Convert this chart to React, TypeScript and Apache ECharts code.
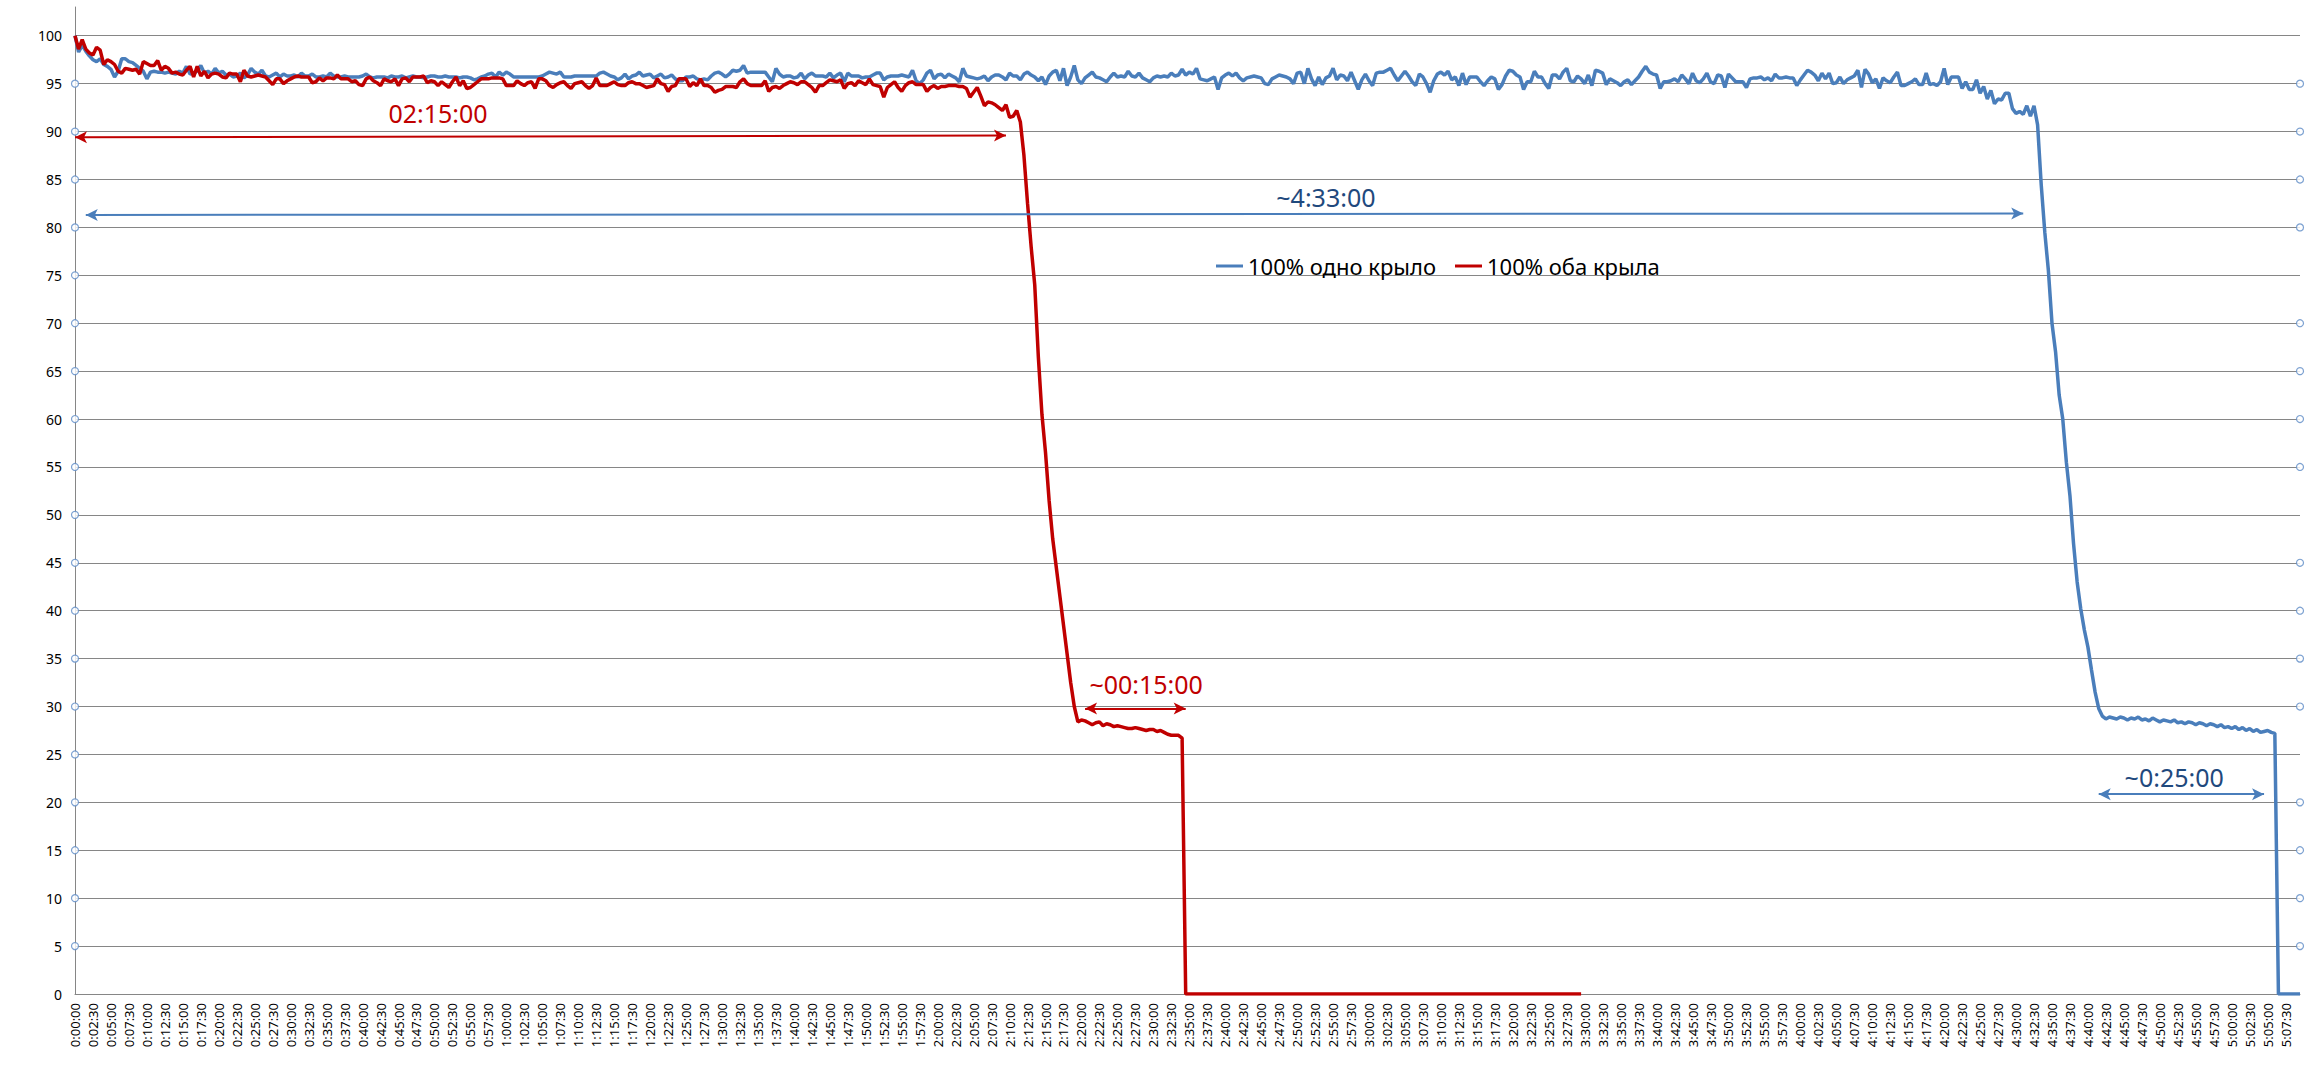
import React, { useEffect, useRef } from 'react';
import * as echarts from 'echarts';

const FONT = '"Noto Sans", "Open Sans", sans-serif';

const BLUE_NAME = '100% одно крыло';
const RED_NAME = '100% оба крыла';

// one reading every 30 seconds, 0:00:00 … 5:09:30
const STEP_SECONDS = 30;
const POINT_COUNT = 620;

const blueValues: number[] = [
  100, 98.3, 99.0, 98.4, 97.9, 97.5, 97.3, 97.6, 97.0, 96.8,
  96.5, 95.7, 96.3, 97.6, 97.6, 97.3, 97.2, 96.9, 96.6, 96.3,
  95.5, 96.2, 96.3, 96.2, 96.2, 96.1, 96.2, 96.1, 96.0, 96.3,
  96.1, 96.8, 96.0, 96.1, 96.3, 96.9, 96.1, 96.3, 96.0, 96.6,
  96.1, 96.3, 95.9, 96.0, 95.7, 95.8, 96.1, 95.6, 95.9, 96.6,
  96.2, 96.0, 96.4, 95.8, 95.7, 95.9, 96.1, 95.7, 96.0, 95.8,
  95.8, 95.9, 95.7, 96.1, 95.8, 95.8, 96.0, 95.7, 95.7, 95.8,
  95.7, 96.1, 95.8, 95.7, 95.7, 95.8, 95.7, 95.7, 95.7, 95.7,
  95.8, 96.0, 95.7, 95.6, 95.7, 95.7, 95.7, 95.6, 95.8, 95.7,
  95.7, 95.8, 95.6, 95.7, 95.8, 95.7, 95.7, 95.6, 95.7, 95.8,
  95.8, 95.7, 95.7, 95.8, 95.7, 95.7, 95.7, 95.6, 95.7, 95.7,
  95.6, 95.4, 95.5, 95.7, 95.8, 96.0, 96.1, 95.7, 96.2, 95.9,
  96.2, 96.0, 95.7, 95.7, 95.7, 95.7, 95.7, 95.7, 95.7, 95.7,
  95.8, 96.0, 96.2, 96.1, 96.0, 96.2, 95.7, 95.7, 95.7, 95.8,
  95.8, 95.8, 95.8, 95.8, 95.8, 95.8, 96.1, 96.2, 96.0, 95.8,
  95.7, 95.4, 95.6, 96.0, 95.5, 95.8, 95.9, 96.2, 95.8, 95.9,
  96.0, 95.6, 95.8, 96.0, 95.6, 95.7, 95.9, 95.5, 95.3, 95.3,
  95.7, 95.7, 95.8, 95.5, 95.4, 95.5, 95.4, 95.8, 96.1, 96.2,
  96.0, 95.7, 96.0, 96.4, 96.3, 96.4, 96.9, 96.1, 96.2, 96.2,
  96.2, 96.2, 96.2, 95.7, 95.2, 96.6, 96.0, 95.7, 95.8, 95.8,
  95.6, 95.7, 96.1, 95.5, 95.9, 96.1, 95.8, 95.8, 95.8, 95.7,
  96.1, 95.6, 95.9, 96.1, 95.2, 96.1, 95.8, 95.8, 95.8, 95.6,
  95.7, 95.7, 95.9, 96.1, 96.1, 95.4, 95.7, 95.8, 95.8, 95.8,
  95.9, 95.8, 95.7, 96.4, 95.3, 95.0, 95.4, 96.1, 96.4, 95.5,
  95.9, 96.0, 95.6, 96.0, 95.8, 95.6, 95.2, 96.6, 95.8, 95.7,
  95.6, 95.5, 95.6, 95.8, 95.3, 95.7, 95.9, 95.9, 95.7, 95.4,
  96.1, 95.8, 95.8, 95.4, 96.0, 96.2, 95.9, 95.7, 95.3, 95.7,
  94.9, 95.8, 96.2, 96.4, 95.3, 96.6, 94.8, 95.7, 96.9, 95.4,
  95.0, 95.6, 95.9, 96.2, 95.7, 95.6, 95.4, 95.2, 95.7, 96.1,
  95.7, 95.8, 95.7, 96.3, 95.8, 95.7, 96.1, 95.6, 95.4, 95.2,
  95.6, 95.8, 95.7, 95.8, 95.7, 96.1, 95.8, 95.9, 96.5, 95.9,
  96.2, 96.0, 96.6, 95.5, 95.4, 95.3, 95.5, 95.7, 94.4, 95.6,
  95.9, 96.1, 95.8, 96.1, 95.6, 95.3, 95.6, 95.7, 95.8, 95.7,
  95.6, 95.0, 94.9, 95.5, 95.7, 95.9, 95.8, 95.7, 95.5, 95.0,
  96.1, 96.2, 95.0, 96.6, 95.5, 94.8, 95.7, 94.9, 95.6, 95.8,
  96.6, 95.4, 95.9, 95.8, 95.3, 96.2, 95.3, 94.4, 95.4, 96.0,
  95.3, 94.8, 96.1, 96.2, 96.2, 96.4, 96.6, 95.9, 95.3, 95.8,
  96.3, 95.8, 95.2, 94.8, 96.0, 95.7, 95.0, 94.1, 95.3, 96.0,
  96.2, 95.9, 96.3, 95.4, 95.7, 94.8, 96.1, 94.9, 95.7, 95.7,
  95.7, 95.2, 94.8, 95.3, 95.7, 95.5, 94.4, 94.9, 95.8, 96.4,
  96.3, 95.9, 95.7, 94.4, 95.2, 95.2, 96.3, 95.7, 95.7, 95.0,
  94.5, 95.9, 95.9, 95.5, 96.2, 96.6, 95.3, 95.2, 95.8, 95.5,
  95.0, 95.9, 94.8, 96.4, 96.3, 96.1, 94.9, 95.5, 95.3, 95.1,
  94.8, 95.2, 95.4, 94.9, 95.3, 95.7, 96.3, 96.8, 96.2, 96.0,
  95.9, 94.5, 95.2, 95.2, 95.3, 95.5, 95.2, 95.9, 95.5, 95.0,
  96.1, 95.3, 95.1, 95.5, 96.1, 95.2, 95.0, 95.9, 95.8, 94.6,
  96.0, 95.6, 95.2, 95.2, 95.2, 94.6, 95.5, 95.6, 95.6, 95.7,
  95.4, 95.6, 95.3, 96.0, 95.6, 95.6, 95.7, 95.6, 95.6, 94.8,
  95.4, 95.9, 96.4, 96.2, 95.9, 95.3, 96.1, 95.5, 96.1, 95.0,
  95.1, 95.7, 95.0, 95.4, 95.6, 95.8, 96.4, 94.6, 96.5, 96.0,
  95.1, 95.5, 94.5, 95.6, 95.3, 95.1, 95.7, 96.2, 94.8, 94.8,
  95.0, 95.2, 95.5, 94.9, 94.9, 96.1, 94.9, 95.0, 94.8, 95.2,
  96.6, 94.9, 95.7, 95.7, 95.7, 94.5, 95.2, 94.4, 94.4, 95.4,
  94.0, 94.7, 93.4, 94.3, 92.9, 93.4, 93.3, 94.0, 94.0, 92.4,
  91.9, 92.1, 91.8, 92.7, 91.6, 92.7, 90.7, 84.5, 79.5, 75.5,
  70.0, 67.0, 62.5, 60.0, 55.5, 52.0, 47.0, 43.0, 40.2, 38.0,
  36.2, 33.8, 31.5, 29.8, 29.0, 28.7, 28.9, 28.8, 28.7, 28.9,
  28.8, 28.6, 28.8, 28.7, 28.9, 28.6, 28.7, 28.5, 28.8, 28.6,
  28.4, 28.6, 28.5, 28.4, 28.6, 28.3, 28.4, 28.2, 28.4, 28.3,
  28.1, 28.3, 28.2, 28.0, 28.2, 28.1, 27.9, 28.1, 27.8, 27.9,
  27.7, 27.9, 27.6, 27.8, 27.5, 27.7, 27.4, 27.6, 27.3, 27.4,
  27.5, 27.3, 27.2, 0, 0, 0, 0, 0, 0, 0,
];

const redValues: number[] = [
  100.0, 98.6, 99.6, 98.6, 98.2, 98.0, 98.8, 98.5, 97.0, 97.5,
  97.3, 97.0, 96.3, 96.1, 96.6, 96.5, 96.4, 96.5, 96.0, 97.3,
  97.1, 96.9, 96.9, 97.4, 96.4, 96.8, 96.6, 96.1, 96.2, 96.0,
  95.9, 96.4, 96.8, 95.7, 96.8, 95.8, 96.3, 95.6, 96.0, 96.1,
  96.0, 95.7, 95.6, 96.1, 96.0, 96.0, 95.2, 96.4, 95.8, 95.7,
  95.8, 95.9, 95.8, 95.7, 95.3, 94.9, 95.5, 95.5, 95.0, 95.3,
  95.5, 95.7, 95.8, 95.7, 95.7, 95.7, 95.1, 95.2, 95.6, 95.3,
  95.6, 95.6, 95.5, 95.9, 95.5, 95.5, 95.5, 95.2, 95.3, 94.9,
  94.8, 95.5, 95.7, 95.3, 95.1, 94.8, 95.5, 95.3, 95.2, 95.5,
  94.8, 95.5, 95.6, 95.2, 95.7, 95.7, 95.7, 95.8, 95.1, 95.3,
  95.2, 94.8, 95.2, 94.9, 94.6, 95.2, 95.7, 94.8, 95.3, 94.5,
  94.6, 94.9, 95.2, 95.5, 95.5, 95.5, 95.6, 95.6, 95.6, 95.5,
  94.8, 94.8, 94.8, 95.3, 95.0, 94.8, 95.1, 95.2, 94.5, 95.5,
  95.5, 95.3, 94.8, 94.6, 94.9, 95.1, 95.2, 94.8, 94.5, 95.0,
  95.1, 95.2, 94.8, 94.5, 94.8, 95.6, 94.8, 94.8, 94.8, 95.0,
  95.2, 94.9, 94.8, 94.8, 95.1, 95.2, 95.0, 95.0, 94.8, 94.6,
  94.7, 94.8, 95.5, 95.0, 94.9, 94.2, 94.7, 94.8, 95.5, 95.5,
  95.5, 94.7, 95.1, 94.8, 95.5, 94.8, 94.8, 94.6, 94.1, 94.3,
  94.4, 94.7, 94.7, 94.7, 94.6, 95.2, 95.5, 95.0, 94.8, 94.8,
  94.8, 94.8, 95.3, 94.2, 94.6, 94.7, 94.5, 94.8, 95.0, 95.2,
  95.1, 94.9, 95.2, 95.2, 94.9, 94.6, 94.1, 94.8, 94.8, 95.1,
  95.4, 95.3, 95.2, 95.4, 94.5, 95.0, 95.1, 94.8, 95.3, 95.1,
  94.9, 95.5, 94.9, 94.8, 94.7, 93.6, 94.6, 94.9, 95.2, 94.6,
  94.2, 94.8, 95.1, 95.2, 94.9, 94.9, 94.9, 94.2, 94.6, 94.8,
  94.5, 94.7, 94.7, 94.8, 94.8, 94.8, 94.7, 94.7, 94.5, 93.6,
  94.1, 94.6, 93.7, 92.7, 93.1, 93.0, 92.8, 92.5, 92.2, 92.8,
  91.5, 91.6, 92.2, 91.0, 87.5, 82.5, 78.0, 74.0, 66.5, 60.5,
  56.5, 51.5, 47.5, 44.5, 41.5, 38.5, 35.5, 32.5, 30.0, 28.4,
  28.6, 28.5, 28.3, 28.1, 28.3, 28.4, 28.0, 28.2, 28.1, 27.9,
  28.0, 27.9, 27.8, 27.7, 27.7, 27.8, 27.7, 27.6, 27.5, 27.6,
  27.6, 27.4, 27.5, 27.3, 27.1, 27.0, 27.0, 27.0, 26.7, 0,
  0, 0, 0, 0, 0, 0, 0, 0, 0, 0,
  0, 0, 0, 0, 0, 0, 0, 0, 0, 0,
  0, 0, 0, 0, 0, 0, 0, 0, 0, 0,
  0, 0, 0, 0, 0, 0, 0, 0, 0, 0,
  0, 0, 0, 0, 0, 0, 0, 0, 0, 0,
  0, 0, 0, 0, 0, 0, 0, 0, 0, 0,
  0, 0, 0, 0, 0, 0, 0, 0, 0, 0,
  0, 0, 0, 0, 0, 0, 0, 0, 0, 0,
  0, 0, 0, 0, 0, 0, 0, 0, 0, 0,
  0, 0, 0, 0, 0, 0, 0, 0, 0, 0,
  0, 0, 0, 0, 0, 0, 0, 0, 0, 0,
];

// small round handles drawn at the ends of the gridlines
const leftHandleValues = [5, 10, 15, 20, 25, 30, 35, 40, 45, 50, 55, 60, 65, 70, 75, 80, 85, 90, 95];
const rightHandleValues = [5, 10, 15, 20, 30, 35, 40, 45, 55, 60, 65, 70, 80, 85, 90, 95];

// annotations: double-headed arrows [category index, value]
const redArrows = [
  { from: [0, 89.4], to: [259, 89.6] },
  { from: [281, 29.8], to: [309, 29.8] },
];
const blueArrows = [
  { from: [3, 81.3], to: [542, 81.45] },
  { from: [563, 20.85], to: [609, 20.85] },
];
const redNotes = [
  { text: '02:15:00', at: [101, 91.9] },
  { text: '~00:15:00', at: [298, 32.4] },
];
const blueNotes = [
  { text: '~4:33:00', at: [348, 83.2] },
  { text: '~0:25:00', at: [584, 22.6] },
];

const BLUE = '#4A7EBB';
const RED = '#C00000';
const NAVY = '#1F497D';
const GRID = '#868686';

function pad2(n: number) {
  return n < 10 ? '0' + n : String(n);
}
function fmtTime(sec: number) {
  const h = Math.floor(sec / 3600);
  const m = Math.floor((sec % 3600) / 60);
  const s = sec % 60;
  return `${h}:${pad2(m)}:${pad2(s)}`;
}
const timeCategories = Array.from({ length: POINT_COUNT }, (_, i) => fmtTime(i * STEP_SECONDS));

function arrowMarkLine(arrows: { from: number[]; to: number[] }[], color: string) {
  return {
    silent: true,
    symbol: ['arrow', 'arrow'],
    symbolSize: [9, 12],
    label: { show: false },
    emphasis: { disabled: true },
    lineStyle: { color, width: 2, type: 'solid' },
    data: arrows.map((a) => [{ coord: a.from }, { coord: a.to }]),
  };
}

function noteMarkPoint(notes: { text: string; at: number[] }[], color: string) {
  return {
    silent: true,
    symbol: 'circle',
    symbolSize: 1,
    itemStyle: { color: 'rgba(0,0,0,0)' },
    emphasis: { disabled: true },
    label: {
      show: true,
      position: 'inside',
      color,
      fontSize: 25,
      fontFamily: FONT,
    },
    data: notes.map((n) => ({
      coord: n.at,
      label: { formatter: n.text },
    })),
  };
}

export default function App() {
  const ref = useRef<HTMLDivElement>(null);

  useEffect(() => {
    document.body.style.margin = '0';
    if (!ref.current) return;
    const chart = echarts.init(ref.current, null, { renderer: 'svg' });

    const handleData = [
      ...leftHandleValues.map((v) => [0, v]),
      ...rightHandleValues.map((v) => [POINT_COUNT - 1, v]),
    ];

    const option: any = {
      animation: false,
      backgroundColor: '#ffffff',
      textStyle: { fontFamily: FONT },
      grid: {
        left: 75,
        right: 11,
        top: 7,
        bottom: 97,
        containLabel: false,
        outerBoundsMode: 'none',
      },
      legend: {
        data: [BLUE_NAME, RED_NAME],
        left: 1211,
        top: 250,
        icon: 'rect',
        itemWidth: 27,
        itemHeight: 3,
        itemGap: 19,
        selectedMode: false,
        textStyle: { fontSize: 22, color: '#000000', fontFamily: FONT },
      },
      xAxis: {
        type: 'category',
        data: timeCategories,
        boundaryGap: false,
        axisLine: { show: true, lineStyle: { color: GRID, width: 1 } },
        axisTick: { show: false },
        axisLabel: {
          interval: 4,
          rotate: 90,
          fontSize: 13,
          color: '#000000',
          margin: 9,
          fontFamily: FONT,
        },
        splitLine: { show: false },
      },
      yAxis: {
        type: 'value',
        min: 0,
        max: 103,
        interval: 5,
        axisLine: { show: true, lineStyle: { color: GRID, width: 1 } },
        axisTick: { show: false },
        axisLabel: {
          fontSize: 14,
          color: '#000000',
          margin: 13,
          fontFamily: FONT,
          showMaxLabel: false,
          formatter: (v: number) => (v % 5 === 0 ? String(v) : ''),
        },
        splitLine: {
          show: true,
          showMaxLine: false,
          lineStyle: { color: GRID, width: 1 },
        },
      },
      series: [
        {
          name: BLUE_NAME,
          type: 'line',
          data: blueValues,
          symbol: 'none',
          showSymbol: false,
          lineStyle: { color: BLUE, width: 3.5 },
          itemStyle: { color: BLUE },
          z: 2,
          markLine: arrowMarkLine(blueArrows, BLUE),
          markPoint: noteMarkPoint(blueNotes, NAVY),
        },
        {
          name: RED_NAME,
          type: 'line',
          data: redValues,
          symbol: 'none',
          showSymbol: false,
          lineStyle: { color: RED, width: 3.5 },
          itemStyle: { color: RED },
          z: 3,
          markLine: arrowMarkLine(redArrows, RED),
          markPoint: noteMarkPoint(redNotes, RED),
        },
        {
          name: 'handles',
          type: 'scatter',
          data: handleData,
          symbol: 'circle',
          symbolSize: 7,
          silent: true,
          itemStyle: { color: '#ffffff', borderColor: '#5B8AC5', borderWidth: 1.2 },
          z: 4,
        },
      ],
    };

    chart.setOption(option);
    return () => chart.dispose();
  }, []);

  return <div ref={ref} style={{ width: 2311, height: 1091, background: '#ffffff' }} />;
}
